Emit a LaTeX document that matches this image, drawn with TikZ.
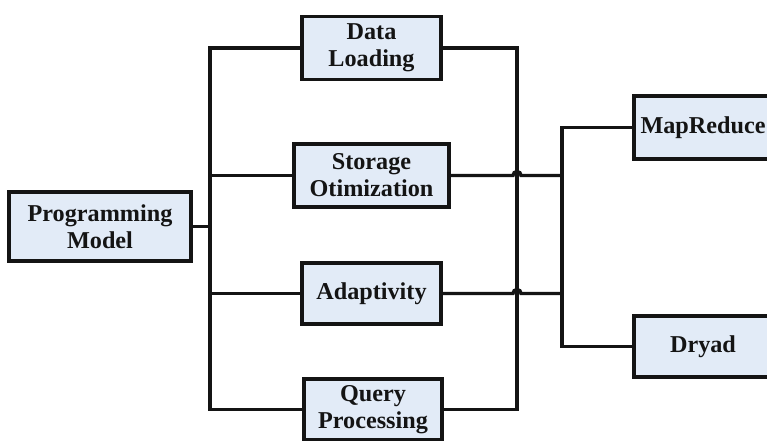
\documentclass[tikz,border=0pt]{standalone}
\usepackage{fontspec}
\setmainfont{Liberation Serif}
\definecolor{boxfill}{HTML}{E2EBF7}
\definecolor{ink}{HTML}{141414}
\begin{document}
\begin{tikzpicture}[x=1pt,y=1pt,
  box/.style={draw=ink, line width=3.8pt, fill=boxfill, inner sep=0pt, align=center,
    text=ink, font=\fontsize{24.2}{27}\selectfont\bfseries},
  conn/.style={draw=ink, line width=3.4pt}]
\clip (0,0) rectangle (767,440);
\fill[white] (0,0) rectangle (767,440);
\node[box, minimum width=182pt, minimum height=69pt] (PM) at (100,213.5) {Programming\\Model};
\node[box, minimum width=139pt, minimum height=63pt] (DL) at (371.5,392) {Data\\Loading};
\node[box, minimum width=155pt, minimum height=63pt] (SO) at (371.5,264.5) {Storage\\Otimization};
\node[box, minimum width=139pt, minimum height=61pt] (AD) at (371.5,146.5) {Adaptivity};
\node[box, minimum width=138pt, minimum height=61pt] (QP) at (373,30.5) {Query\\Processing};
\node[box, minimum width=138pt, minimum height=63pt] (MR) at (703,312.5) {MapReduce};
\node[box, minimum width=138pt, minimum height=61pt] (DR) at (703,93.5) {Dryad};
\coordinate (bx) at (210,0);
\coordinate (cx) at (517,0);
\coordinate (dx) at (562,0);
% left bus
\draw[conn] (DL.west) -- (DL.west -| bx) -- (QP.west -| bx) -- (QP.west);
\draw[conn] (SO.west) -- (SO.west -| bx);
\draw[conn] (AD.west) -- (AD.west -| bx);
\draw[conn] (PM.east) -- (PM.east -| bx);
% middle bus
\draw[conn] (DL.east) -- (DL.east -| cx) -- (QP.east -| cx) -- (QP.east);
% right bus
\draw[conn] (MR.west) -- (MR.west -| dx) -- (DR.west -| dx) -- (DR.west);
% crossings with hops
\draw[conn] (SO.east) -- ([xshift=-4pt]SO.east -| cx) arc (180:0:4pt) -- (SO.east -| dx);
\draw[conn] (AD.east) -- ([xshift=-4pt]AD.east -| cx) arc (180:0:4pt) -- (AD.east -| dx);
\end{tikzpicture}
\end{document}
